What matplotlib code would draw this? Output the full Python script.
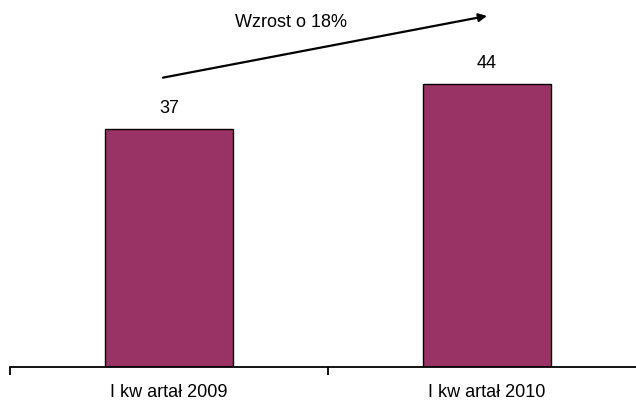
import matplotlib.pyplot as plt
from matplotlib.transforms import blended_transform_factory

plt.rcParams['font.family'] = ['Liberation Sans', 'DejaVu Sans']

categories = ['I kw artał 2009', 'I kw artał 2010']
values = [37, 44]
growth_label = 'Wzrost o 18%'

fig = plt.figure(figsize=(6.36, 4.01), dpi=100)
# axes runs past the right edge, like in the original
ax = fig.add_axes([10 / 636, 34 / 401, 636 / 636, 321.5 / 401])

x = range(len(categories))
ax.bar(x, values, width=0.405, color='#993366', edgecolor='black', linewidth=1)

for i, v in enumerate(values):
    ax.text(i, v + 2.5, str(v), ha='center', va='baseline', fontsize=13)

ax.set_xlim(-0.5, 1.5)
ax.set_ylim(0, 50)

for side in ['top', 'right', 'left']:
    ax.spines[side].set_visible(False)
ax.spines['bottom'].set_linewidth(1.3)
ax.set_yticks([])

# category labels sit near the bottom edge
ax.set_xticks([])
ax.set_xticks([-0.5, 0.5, 1.5], minor=True)
ax.tick_params(axis='x', which='minor', length=6, direction='out', width=1.3)
ax.xaxis.set_minor_formatter(plt.NullFormatter())
trans = blended_transform_factory(ax.transData, fig.transFigure)
for i, cat in enumerate(categories):
    ax.text(i, 4 / 401, cat, transform=trans, ha='center', va='baseline',
            fontsize=13, clip_on=False)

ax.annotate('', xy=(1.0, 54.6), xytext=(-0.019, 45.0), xycoords='data',
            arrowprops=dict(arrowstyle='-|>', color='black', lw=1.6,
                            mutation_scale=12, shrinkA=0, shrinkB=0),
            annotation_clip=False)
ax.text(0.384, 53.5, growth_label, ha='center', va='center', fontsize=13,
        clip_on=False)

plt.savefig('out.png', dpi=100)
